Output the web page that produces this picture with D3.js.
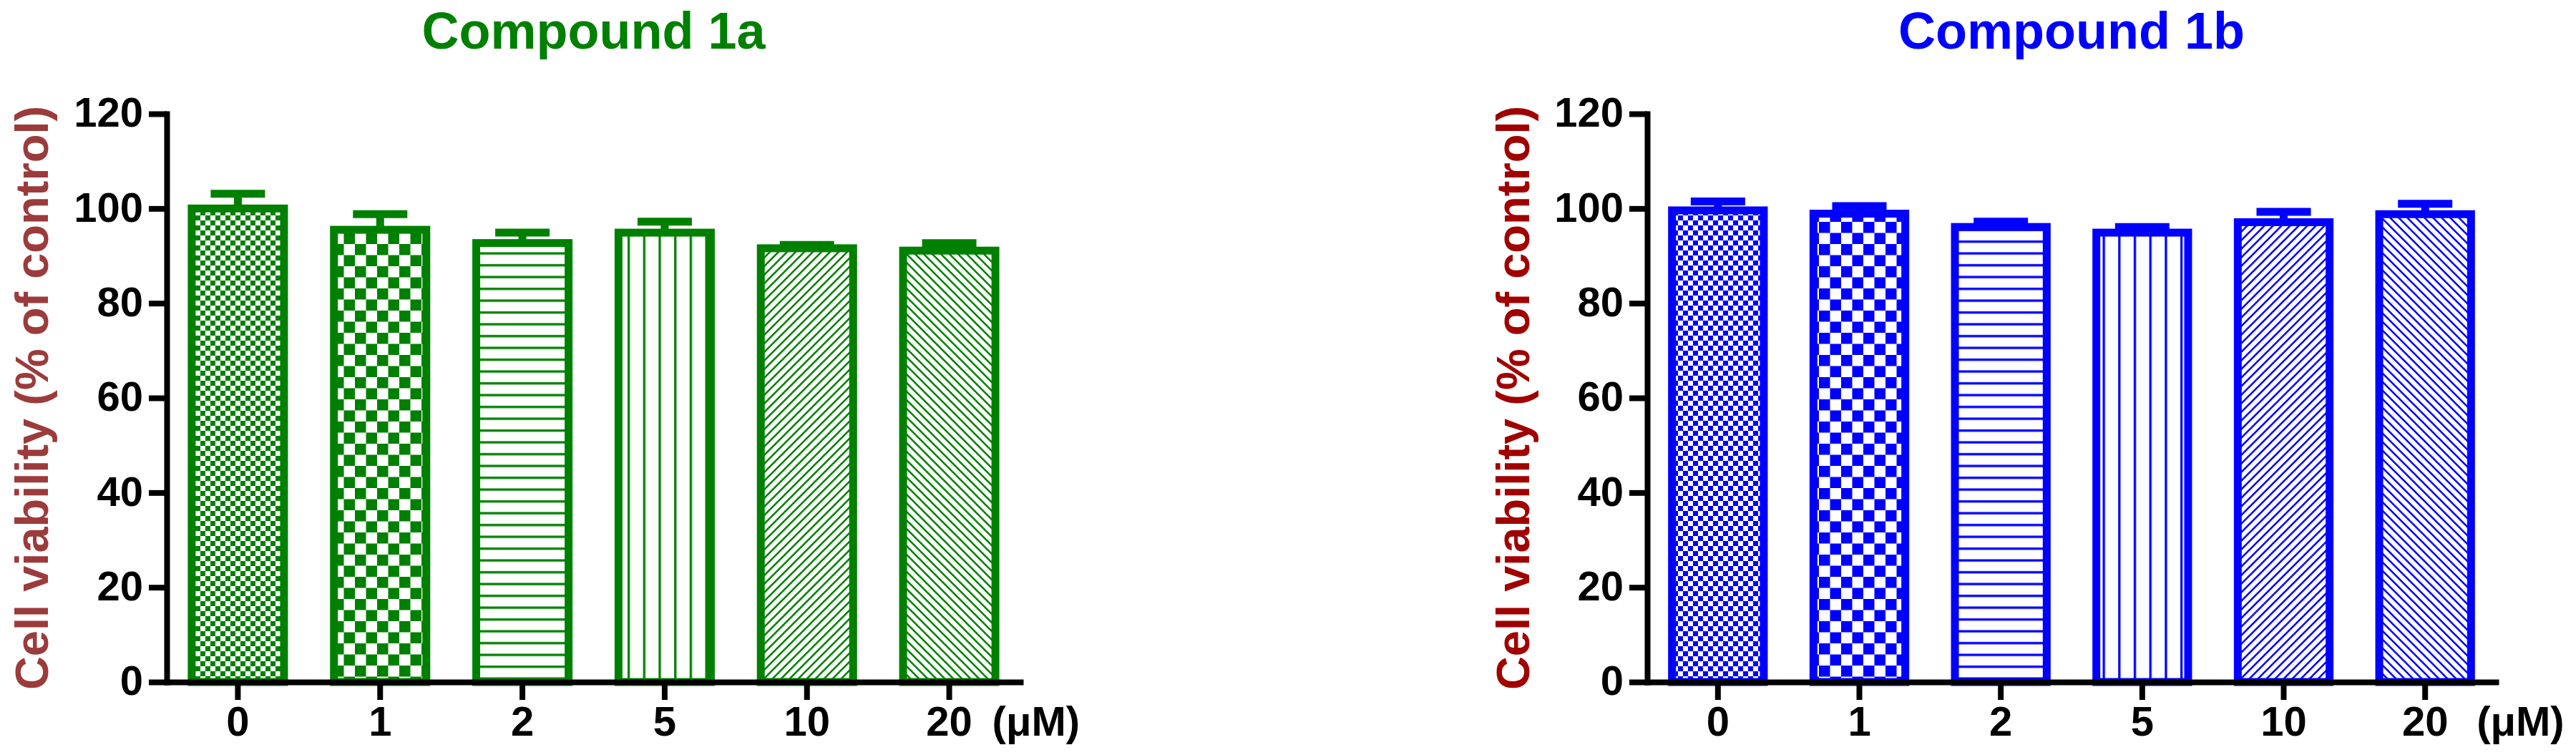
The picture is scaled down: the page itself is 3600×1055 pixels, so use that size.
<!DOCTYPE html>
<head>
<meta charset="utf-8">
<script src="https://d3js.org/d3.v7.min.js"></script>
<style>
body { margin: 0; background: #fff; }
svg { display: block; background: #fff; }
.axis path, .axis line { stroke: #000; stroke-width: 8; }
.axis path { stroke-linecap: square; }
.axis text { fill: #000; font-family: "Liberation Sans", Arial, sans-serif; font-weight: bold; }
</style>
</head>
<body>
<script>
// concentrations (µM)
const categories = ["0", "1", "2", "5", "10", "20"];
// cell viability, % of control
const values1a = [100.0, 95.5, 92.7, 94.9, 91.6, 91.1];
const errors1a = [3.1, 3.3, 2.2, 2.3, 0.7, 1.6];
const values1b = [99.6, 98.9, 96.1, 94.9, 97.1, 98.8];
const errors1b = [1.9, 1.6, 1.1, 1.2, 2.2, 2.2];
const yTicks = [0, 20, 40, 60, 80, 100, 120];
const fillPatterns = ["fineChecker", "checker", "hLines", "vLines", "diagUp", "diagDown"];

const panels = [
  {key: "a", title: "Compound 1a", color: "#008000", labelColor: "#9C3B3B", values: values1a, errors: errors1a},
  {key: "b", title: "Compound 1b", color: "#0000FF", labelColor: "#A00000", values: values1b, errors: errors1b}
];
// layout per panel
const layout = {
  a: {x0: 233, x1: 1426, labelX: 67, unitDx: 60},
  b: {x0: 2302, x1: 3488, labelX: 2137, unitDx: 72}
};

const W = 3600, H = 1055;
const yTop = 159, yBottom = 953;
const font = '"Liberation Sans", Arial, sans-serif';

const svg = d3.select("body").append("svg").attr("width", W).attr("height", H);
const defs = svg.append("defs");

function addPatterns(key, color) {
  // small checker
  let p = defs.append("pattern").attr("id", key + "-fineChecker").attr("patternUnits", "userSpaceOnUse")
    .attr("width", 14).attr("height", 14);
  p.append("rect").attr("width", 14).attr("height", 14).attr("fill", "#fff");
  p.append("rect").attr("width", 7).attr("height", 7).attr("fill", color);
  p.append("rect").attr("x", 7).attr("y", 7).attr("width", 7).attr("height", 7).attr("fill", color);
  // big checker
  p = defs.append("pattern").attr("id", key + "-checker").attr("patternUnits", "userSpaceOnUse")
    .attr("width", 31).attr("height", 31);
  p.append("rect").attr("width", 31).attr("height", 31).attr("fill", "#fff");
  p.append("rect").attr("width", 15.5).attr("height", 15.5).attr("fill", color);
  p.append("rect").attr("x", 15.5).attr("y", 15.5).attr("width", 15.5).attr("height", 15.5).attr("fill", color);
  // horizontal lines
  p = defs.append("pattern").attr("id", key + "-hLines").attr("patternUnits", "userSpaceOnUse")
    .attr("width", 10).attr("height", 16.5);
  p.append("rect").attr("width", 10).attr("height", 16.5).attr("fill", "#fff");
  p.append("rect").attr("y", 6).attr("width", 10).attr("height", 3.3).attr("fill", color);
  // vertical lines
  p = defs.append("pattern").attr("id", key + "-vLines").attr("patternUnits", "userSpaceOnUse")
    .attr("width", 21.7).attr("height", 10);
  p.append("rect").attr("width", 21.7).attr("height", 10).attr("fill", "#fff");
  p.append("rect").attr("x", 9).attr("width", 3.3).attr("height", 10).attr("fill", color);
  // diagonal /
  p = defs.append("pattern").attr("id", key + "-diagUp").attr("patternUnits", "userSpaceOnUse")
    .attr("width", 12).attr("height", 12);
  p.append("rect").attr("width", 12).attr("height", 12).attr("fill", "#fff");
  p.append("path").attr("d", "M-3,3L3,-3M0,12L12,0M9,15L15,9")
    .attr("stroke", color).attr("stroke-width", 2.6);
  // diagonal \
  p = defs.append("pattern").attr("id", key + "-diagDown").attr("patternUnits", "userSpaceOnUse")
    .attr("width", 12).attr("height", 12);
  p.append("rect").attr("width", 12).attr("height", 12).attr("fill", "#fff");
  p.append("path").attr("d", "M0,0L12,12M-3,9L3,15M9,-3L15,3")
    .attr("stroke", color).attr("stroke-width", 2.6);
}

function drawPanel(p) {
  const L = layout[p.key];
  addPatterns(p.key, p.color);

  const x = d3.scaleBand().domain(categories).range([L.x0, L.x1])
    .paddingInner(0.351).paddingOuter(0.1755);
  const y = d3.scaleLinear().domain([0, 120]).range([yBottom, yTop]);

  const rows = categories.map((c, i) => ({c: c, v: p.values[i], e: p.errors[i], pat: fillPatterns[i]}));
  const g = svg.append("g");
  const cx = d => x(d.c) + x.bandwidth() / 2;

  // error bars (upper only)
  g.selectAll(".stem").data(rows).join("line").attr("class", "stem")
    .attr("x1", cx).attr("x2", cx)
    .attr("y1", d => y(d.v)).attr("y2", d => y(d.v + d.e))
    .attr("stroke", p.color).attr("stroke-width", 11);
  g.selectAll(".cap").data(rows).join("line").attr("class", "cap")
    .attr("x1", d => cx(d) - 38).attr("x2", d => cx(d) + 38)
    .attr("y1", d => y(d.v + d.e)).attr("y2", d => y(d.v + d.e))
    .attr("stroke", p.color).attr("stroke-width", 11);

  // bars
  g.selectAll(".bar").data(rows).join("rect").attr("class", "bar")
    .attr("x", d => x(d.c)).attr("width", x.bandwidth())
    .attr("y", d => y(d.v)).attr("height", d => y(0) - y(d.v))
    .attr("fill", d => "url(#" + p.key + "-" + d.pat + ")")
    .attr("stroke", p.color).attr("stroke-width", 11);

  // axes
  const ya = svg.append("g").attr("class", "axis")
    .attr("transform", "translate(" + L.x0 + ",0)")
    .call(d3.axisLeft(y).tickValues(yTicks).tickSize(25).tickSizeOuter(0).tickPadding(8));
  ya.selectAll("text").attr("font-size", 58).attr("dy", "0.31em");

  const xa = svg.append("g").attr("class", "axis")
    .attr("transform", "translate(0," + yBottom + ")")
    .call(d3.axisBottom(x).tickSize(25).tickSizeOuter(0).tickPadding(9));
  xa.selectAll("text").attr("font-size", 58);

  // unit label
  svg.append("text")
    .attr("x", x(categories[categories.length - 1]) + x.bandwidth() / 2 + L.unitDx)
    .attr("y", 1028)
    .attr("font-family", font).attr("font-weight", "bold").attr("font-size", 58)
    .text("(μM)");

  // title
  svg.append("text")
    .attr("x", (L.x0 + L.x1) / 2).attr("y", 68)
    .attr("text-anchor", "middle")
    .attr("font-family", font).attr("font-weight", "bold").attr("font-size", 72)
    .attr("fill", p.color)
    .text(p.title);

  // y label
  svg.append("text")
    .attr("transform", "translate(" + L.labelX + ",556) rotate(-90)")
    .attr("text-anchor", "middle")
    .attr("font-family", font).attr("font-weight", "bold").attr("font-size", 65)
    .attr("fill", p.labelColor)
    .text("Cell viability (% of control)");
}

panels.forEach(drawPanel);
</script>
</body>
